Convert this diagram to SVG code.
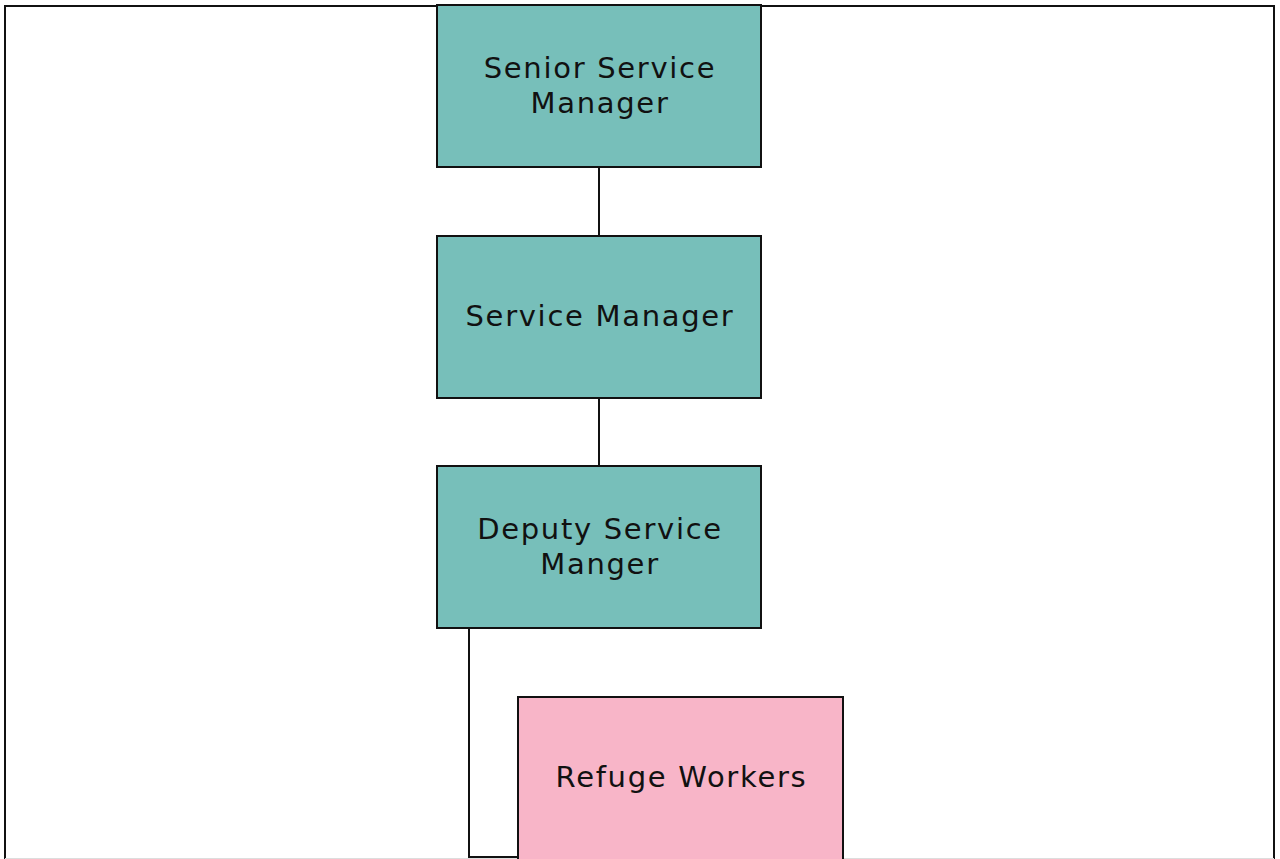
<svg xmlns="http://www.w3.org/2000/svg" width="1280" height="859" viewBox="0 0 1280 859">
<style>
.teal{fill:#77bfba;stroke:#111;stroke-width:2}
.pink{fill:#f8b5c8;stroke:#111;stroke-width:2}
.lbl{font-family:"DejaVu Sans","Noto Sans",sans-serif;font-size:29px;fill:#111;text-anchor:middle;dominant-baseline:central;letter-spacing:1.7px}
.conn{fill:none;stroke:#111;stroke-width:2}
</style>
<rect x="0" y="0" width="1280" height="859" fill="#fff"/>
<g id="frame">
<line x1="5" y1="859" x2="5" y2="6" stroke="#111" stroke-width="2"/>
<line x1="4" y1="6" x2="1275" y2="6" stroke="#111" stroke-width="2"/>
<line x1="1274" y1="5" x2="1274" y2="859" stroke="#111" stroke-width="2"/>
<line x1="5" y1="858.5" x2="1274" y2="858.5" stroke="#ddd" stroke-width="1"/>
</g>
<g id="connectors">
<line class="conn" x1="599" y1="167" x2="599" y2="236"/>
<line class="conn" x1="599" y1="398" x2="599" y2="466"/>
<polyline class="conn" points="469,628 469,857 518,857"/>
</g>
<g id="senior-service-manager">
<rect class="teal" x="437" y="5" width="324" height="162"/>
<text class="lbl" x="600" y="68">Senior Service</text>
<text class="lbl" x="600" y="103">Manager</text>
</g>
<g id="service-manager">
<rect class="teal" x="437" y="236" width="324" height="162"/>
<text class="lbl" x="600" y="316">Service Manager</text>
</g>
<g id="deputy-service-manger">
<rect class="teal" x="437" y="466" width="324" height="162"/>
<text class="lbl" x="600" y="529">Deputy Service</text>
<text class="lbl" x="600" y="564">Manger</text>
</g>
<g id="refuge-workers">
<rect class="pink" x="518" y="697" width="325" height="165"/>
<text class="lbl" x="681.500" y="777">Refuge Workers</text>
</g>
</svg>
